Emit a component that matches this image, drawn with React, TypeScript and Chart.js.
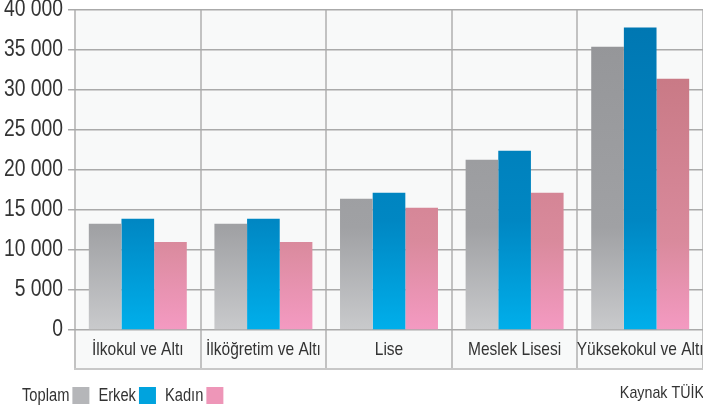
import React, { useEffect, useRef } from "react";
import { Chart, registerables } from "chart.js";

Chart.register(...registerables);

const categories = ["İlkokul ve Altı", "İlköğretim ve Altı", "Lise", "Meslek Lisesi", "Yüksekokul ve Altı"];
const seriesNames = ["Toplam", "Erkek", "Kadın"];
const toplam = [13250, 13250, 16375, 21250, 35375];
const erkek = [13875, 13875, 17125, 22375, 37750];
const kadin = [11000, 11000, 15250, 17125, 31375];
const yTicks = [0, 5000, 10000, 15000, 20000, 25000, 30000, 35000, 40000];
const sourceText = "Kaynak TÜİK";

const FONT = "'Liberation Sans', Arial, sans-serif";
const TEXT = "#333333";
const NARROW = 0.84;

const gradStops: [number, string][][] = [
  [[0, "#939497"], [0.68, "#a0a1a4"], [1, "#c9cacc"]],
  [[0, "#0076b1"], [0.66, "#0087c3"], [1, "#00afeb"]],
  [[0, "#c67784"], [0.22, "#c97a86"], [0.72, "#d98a9c"], [1, "#f49ac2"]],
];
const legendColors = ["#b5b6b9", "#00a3de", "#ee96b8"];

function gradientFor(i: number) {
  return (ctx: any) => {
    const chart = ctx.chart;
    const area = chart.chartArea;
    const stops = gradStops[i];
    if (!area) return stops[stops.length - 1][1];
    const g = chart.ctx.createLinearGradient(0, area.top, 0, area.bottom);
    stops.forEach(([p, c]) => g.addColorStop(p, c));
    return g;
  };
}

function fmt(v: number) {
  return String(v).replace(/\B(?=(\d{3})+(?!\d))/g, " ");
}

// condensed text: horizontally squeeze glyphs around their anchor point
function makeNarrow(ctx: CanvasRenderingContext2D) {
  const orig = ctx.fillText.bind(ctx);
  (ctx as any).fillText = (text: string, x: number, y: number, maxWidth?: number) => {
    ctx.save();
    ctx.translate(x, y);
    ctx.scale(NARROW, 1);
    if (maxWidth !== undefined) orig(text, 0, 0, maxWidth / NARROW);
    else orig(text, 0, 0);
    ctx.restore();
  };
}

const bgPlugin = {
  id: "bgPlugin",
  beforeDraw(chart: any) {
    const { ctx, chartArea } = chart;
    const xs = chart.scales.x;
    ctx.save();
    ctx.fillStyle = "#f8f9f9";
    ctx.fillRect(chartArea.left, chartArea.top, chartArea.right - chartArea.left, xs.bottom - chartArea.top);
    ctx.restore();
  },
  afterDraw(chart: any) {
    const { ctx, chartArea } = chart;
    const xs = chart.scales.x;
    ctx.save();
    ctx.strokeStyle = "#c8c8c8";
    ctx.lineWidth = 2;
    ctx.beginPath();
    ctx.moveTo(chartArea.left - 1, xs.bottom);
    ctx.lineTo(chartArea.right, xs.bottom);
    ctx.stroke();

    // legend: label text followed by its colour box
    ctx.font = `17.5px ${FONT}`;
    ctx.textBaseline = "middle";
    ctx.textAlign = "left";
    let x = 22;
    const cy = 396;
    const boxSize = 17;
    chart.data.datasets.forEach((ds: any, i: number) => {
      ctx.fillStyle = TEXT;
      ctx.fillText(ds.label, x, cy);
      x += ctx.measureText(ds.label).width * NARROW + 3;
      ctx.fillStyle = legendColors[i];
      ctx.fillRect(x, cy - 9, boxSize, boxSize);
      x += boxSize + 9;
    });

    ctx.font = `17px ${FONT}`;
    ctx.textAlign = "right";
    ctx.fillStyle = TEXT;
    ctx.fillText(sourceText, chart.width + 1, 393);
    ctx.restore();
  },
};

export default function App() {
  const ref = useRef<HTMLCanvasElement | null>(null);
  useEffect(() => {
    document.body.style.margin = "0";
    const canvas = ref.current!;
    const c2d = canvas.getContext("2d")!;
    makeNarrow(c2d);
    const chart = new Chart(canvas, {
      type: "bar",
      data: {
        labels: categories,
        datasets: [toplam, erkek, kadin].map((d, i) => ({
          label: seriesNames[i],
          data: d,
          backgroundColor: gradientFor(i),
          borderWidth: 0,
          barPercentage: 1,
          categoryPercentage: 0.78,
        })),
      },
      options: {
        animation: false,
        responsive: false,
        devicePixelRatio: 1,
        layout: { padding: { top: 0, left: 0, right: 0, bottom: 40 } },
        plugins: { legend: { display: false }, tooltip: { enabled: false } },
        scales: {
          x: {
            offset: true,
            grid: { offset: true, color: "#c2c2c2", lineWidth: 2, tickLength: 39, drawTicks: true },
            border: { display: false },
            ticks: {
              padding: -30,
              color: TEXT,
              font: { family: FONT, size: 18.5 },
              maxRotation: 0,
              autoSkip: false,
            },
            afterFit: (s: any) => {
              s.height = 39;
            },
          },
          y: {
            min: 0,
            max: 40000,
            afterBuildTicks: (s: any) => {
              s.ticks = yTicks.map((v) => ({ value: v }));
            },
            grid: { color: "#aaaaaa", lineWidth: 1.5, tickLength: 7 },
            border: { display: false },
            ticks: {
              padding: 5,
              color: TEXT,
              font: { family: FONT, size: 23, lineHeight: 0.4 },
              callback: (v: any) => fmt(Number(v)),
            },
            afterFit: (s: any) => {
              s.width = 75;
            },
          },
        },
      },
      plugins: [bgPlugin],
    });
    return () => chart.destroy();
  }, []);
  return <canvas ref={ref} width={703} height={409} style={{ display: "block", width: 703, height: 409 }} />;
}
